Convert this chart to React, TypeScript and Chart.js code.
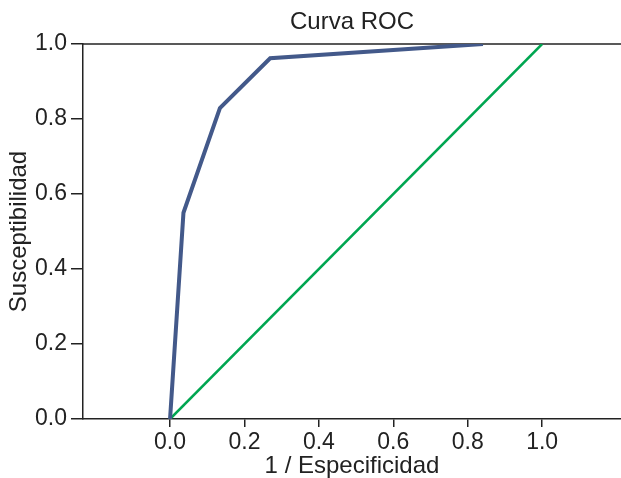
import React, { useEffect, useRef } from "react";
import { Chart, registerables } from "chart.js";

Chart.register(...registerables);

const rocX = [0, 0.036, 0.134, 0.269, 0.841];
const rocY = [0, 0.55, 0.829, 0.962, 1.0];
const diagX = [0, 1];
const diagY = [0, 1];
const xTickValues = [0, 0.2, 0.4, 0.6, 0.8, 1.0];
const titleText = "Curva ROC";
const xTitle = "1 / Especificidad";
const yTitle = "Susceptibilidad";

const FONT = "'Liberation Sans', Arial, Helvetica, sans-serif";
const INK = "#222222";

const topLine = {
  id: "topLine",
  beforeDatasetsDraw(chart: any) {
    const { ctx, chartArea } = chart;
    ctx.save();
    ctx.strokeStyle = INK;
    ctx.lineWidth = 1.5;
    ctx.beginPath();
    ctx.moveTo(chartArea.left, chartArea.top);
    ctx.lineTo(chartArea.right, chartArea.top);
    ctx.stroke();
    ctx.restore();
  },
};

export default function App() {
  const ref = useRef<HTMLCanvasElement>(null);
  useEffect(() => {
    if (!ref.current) return;
    const chart = new Chart(ref.current, {
      type: "scatter",
      data: {
        datasets: [
          {
            label: "ROC",
            data: rocX.map((x, i) => ({ x, y: rocY[i] })),
            showLine: true,
            borderColor: "#43598a",
            backgroundColor: "#43598a",
            borderWidth: 4,
            pointRadius: 0,
            tension: 0,
            order: 1,
          },
          {
            label: "Diagonal",
            data: diagX.map((x, i) => ({ x, y: diagY[i] })),
            showLine: true,
            borderColor: "#00a651",
            backgroundColor: "#00a651",
            borderWidth: 2.5,
            pointRadius: 0,
            tension: 0,
            order: 2,
          },
        ],
      },
      options: {
        responsive: false,
        animation: false,
        layout: { padding: 0 },
        plugins: {
          legend: { display: false },
          tooltip: { enabled: false },
          title: {
            display: true,
            fullSize: false,
            text: titleText,
            color: INK,
            font: { family: FONT, size: 24, weight: "normal", lineHeight: 1.2 },
            padding: { top: 7.5, bottom: 7.7 },
          },
        },
        scales: {
          x: {
            type: "linear",
            min: -0.234,
            max: 1.212,
            afterBuildTicks: (s: any) => {
              s.ticks = xTickValues.map((v) => ({ value: v }));
            },
            afterFit: (s: any) => {
              s.height = 59;
            },
            ticks: {
              color: INK,
              font: { family: FONT, size: 23, lineHeight: 1.2 },
              padding: 2,
              maxRotation: 0,
              autoSkip: false,
              callback: (v: any) => Number(v).toFixed(1),
            },
            grid: {
              display: true,
              drawOnChartArea: false,
              drawTicks: true,
              tickLength: 8,
              color: INK,
              lineWidth: 1.5,
            },
            border: { display: true, color: INK, width: 1.5 },
            title: {
              display: true,
              text: xTitle,
              color: INK,
              font: { family: FONT, size: 24, lineHeight: 1.0 },
              padding: { top: 0, bottom: 0 },
            },
          },
          y: {
            type: "linear",
            min: 0,
            max: 1,
            afterFit: (s: any) => {
              s.width = 83;
            },
            ticks: {
              stepSize: 0.2,
              color: INK,
              font: { family: FONT, size: 23, lineHeight: 1.2 },
              padding: 4,
              callback: (v: any) => Number(v).toFixed(1),
            },
            grid: {
              display: true,
              drawOnChartArea: false,
              drawTicks: true,
              tickLength: 12,
              color: INK,
              lineWidth: 1.5,
            },
            border: { display: true, color: INK, width: 1.5 },
            title: {
              display: true,
              text: yTitle,
              color: INK,
              font: { family: FONT, size: 24, lineHeight: 1.0 },
              padding: { top: 7, bottom: 0 },
            },
          },
        },
      },
      plugins: [topLine],
    });
    return () => chart.destroy();
  }, []);
  return (
    <div style={{ position: "fixed", left: 0, top: 0, width: 621, height: 478 }}>
      <canvas ref={ref} width={621} height={478} />
    </div>
  );
}
